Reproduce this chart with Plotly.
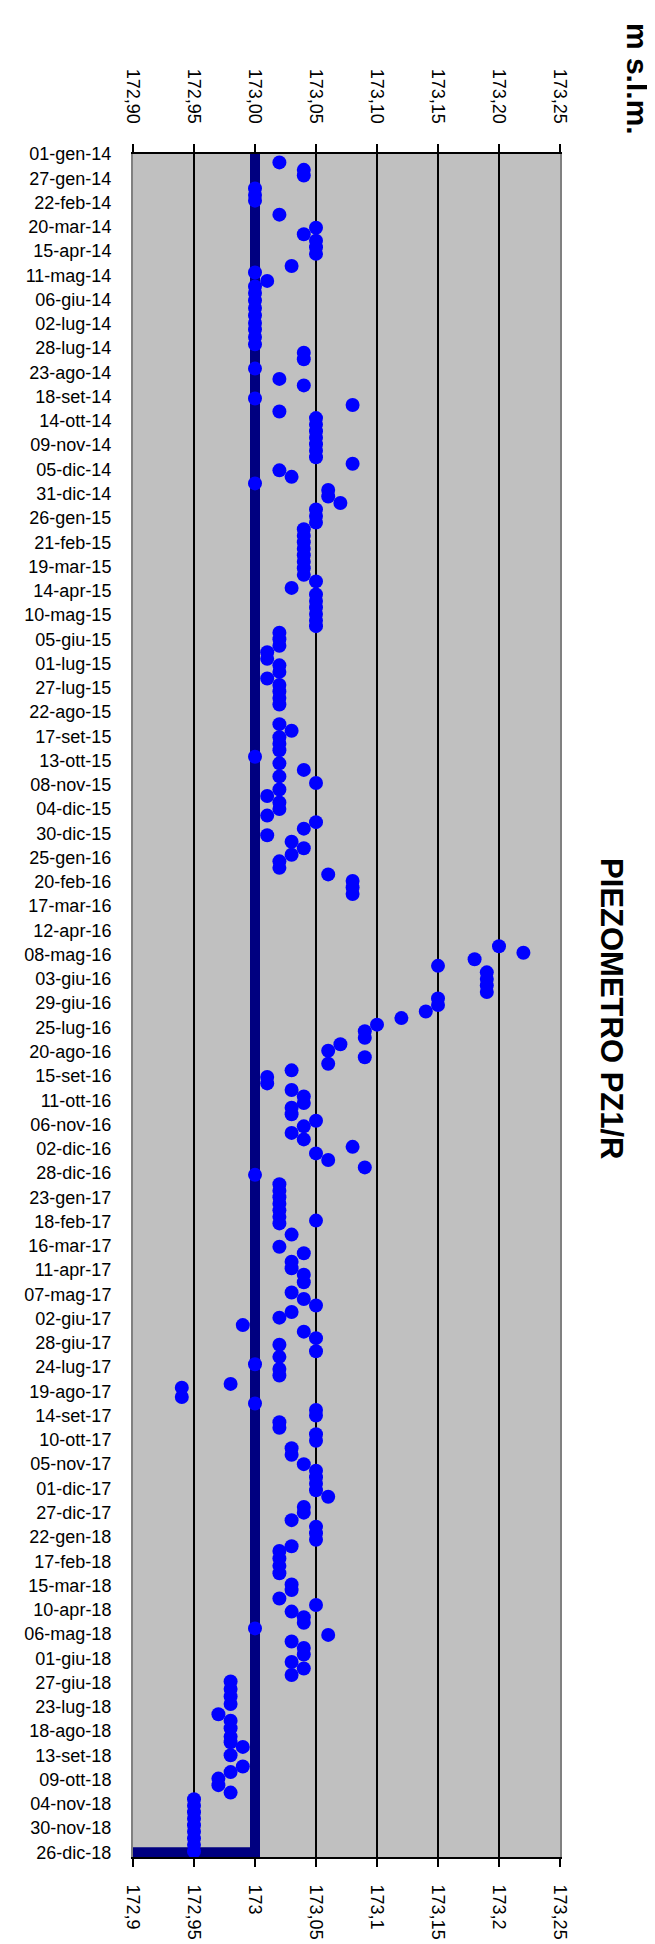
import datetime as dt
import plotly.graph_objects as go

# ---------------- data ----------------
date_labels = [
    "01-gen-14", "27-gen-14", "22-feb-14", "20-mar-14", "15-apr-14", "11-mag-14", "06-giu-14",
    "02-lug-14", "28-lug-14", "23-ago-14", "18-set-14", "14-ott-14", "09-nov-14", "05-dic-14",
    "31-dic-14", "26-gen-15", "21-feb-15", "19-mar-15", "14-apr-15", "10-mag-15", "05-giu-15",
    "01-lug-15", "27-lug-15", "22-ago-15", "17-set-15", "13-ott-15", "08-nov-15", "04-dic-15",
    "30-dic-15", "25-gen-16", "20-feb-16", "17-mar-16", "12-apr-16", "08-mag-16", "03-giu-16",
    "29-giu-16", "25-lug-16", "20-ago-16", "15-set-16", "11-ott-16", "06-nov-16", "02-dic-16",
    "28-dic-16", "23-gen-17", "18-feb-17", "16-mar-17", "11-apr-17", "07-mag-17", "02-giu-17",
    "28-giu-17", "24-lug-17", "19-ago-17", "14-set-17", "10-ott-17", "05-nov-17", "01-dic-17",
    "27-dic-17", "22-gen-18", "17-feb-18", "15-mar-18", "10-apr-18", "06-mag-18", "01-giu-18",
    "27-giu-18", "23-lug-18", "18-ago-18", "13-set-18", "09-ott-18", "04-nov-18", "30-nov-18",
    "26-dic-18",
]
month_map = {"gen": 1, "feb": 2, "mar": 3, "apr": 4, "mag": 5, "giu": 6,
             "lug": 7, "ago": 8, "set": 9, "ott": 10, "nov": 11, "dic": 12}

level_ticks = [172.90, 172.95, 173.00, 173.05, 173.10, 173.15, 173.20, 173.25]
level_labels_top = ["172,90", "172,95", "173,00", "173,05", "173,10", "173,15", "173,20", "173,25"]
level_labels_bottom = ["172,9", "172,95", "173", "173,05", "173,1", "173,15", "173,2", "173,25"]

series_start = "2014-01-01"
# days after series_start of each reading
reading_days = [
    9, 17, 23, 37, 44, 50, 65, 79, 86, 93, 100, 107, 120, 127, 136, 142, 149, 157, 165, 173,
    181, 188, 196, 204, 213, 220, 230, 241, 248, 262, 269, 276, 283, 290, 297, 304, 311, 318,
    325, 332, 339, 346, 353, 360, 367, 374, 381, 388, 395, 402, 409, 416, 423, 430, 437, 444,
    451, 458, 465, 472, 479, 486, 493, 500, 506, 513, 520, 527, 534, 541, 548, 555, 562, 569,
    576, 583, 590, 611, 618, 625, 632, 639, 646, 653, 660, 667, 674, 681, 688, 695, 702, 709,
    716, 723, 730, 737, 744, 751, 758, 765, 772, 779, 786, 793, 849, 856, 863, 870, 877, 884,
    891, 898, 905, 912, 919, 926, 933, 940, 947, 954, 961, 968, 975, 982, 989, 996, 1003, 1010,
    1017, 1022, 1029, 1036, 1042, 1049, 1056, 1064, 1071, 1078, 1086, 1094, 1104, 1111, 1118,
    1125, 1132, 1139, 1143, 1146, 1158, 1171, 1178, 1187, 1194, 1201, 1209, 1220, 1227, 1234,
    1241, 1247, 1255, 1262, 1269, 1276, 1283, 1289, 1297, 1302, 1309, 1318, 1322, 1332, 1339,
    1346, 1352, 1359, 1365, 1372, 1379, 1387, 1394, 1404, 1411, 1418, 1425, 1432, 1439, 1450,
    1456, 1464, 1471, 1478, 1485, 1492, 1497, 1505, 1513, 1521, 1533, 1539, 1548, 1555, 1562,
    1568, 1574, 1580, 1587, 1594, 1601, 1608, 1616, 1623, 1630, 1637, 1645, 1653, 1661, 1672,
    1679, 1687, 1696, 1702, 1707, 1716, 1728, 1734, 1741, 1748, 1756, 1763, 1770, 1777, 1784,
    1791, 1798, 1805, 1812, 1819,
]
reading_levels = [
    173.02, 173.04, 173.04, 173.00, 173.00, 173.00, 173.02, 173.05, 173.04, 173.05, 173.05, 173.05,
    173.03, 173.00, 173.01, 173.00, 173.00, 173.00, 173.00, 173.00, 173.00, 173.00, 173.00, 173.00,
    173.04, 173.04, 173.00, 173.02, 173.04, 173.00, 173.08, 173.02, 173.05, 173.05, 173.05, 173.05,
    173.05, 173.05, 173.05, 173.08, 173.02, 173.03, 173.00, 173.06, 173.06, 173.07, 173.05, 173.05,
    173.05, 173.04, 173.04, 173.04, 173.04, 173.04, 173.04, 173.04, 173.04, 173.05, 173.03, 173.05,
    173.05, 173.05, 173.05, 173.05, 173.05, 173.02, 173.02, 173.02, 173.01, 173.01, 173.02, 173.02,
    173.01, 173.02, 173.02, 173.02, 173.02, 173.02, 173.03, 173.02, 173.02, 173.02, 173.00, 173.02,
    173.04, 173.02, 173.05, 173.02, 173.01, 173.02, 173.02, 173.01, 173.05, 173.04, 173.01, 173.03,
    173.04, 173.03, 173.02, 173.02, 173.06, 173.08, 173.08, 173.08, 173.20, 173.22, 173.18, 173.15,
    173.19, 173.19, 173.19, 173.19, 173.15, 173.15, 173.14, 173.12, 173.10, 173.09, 173.09, 173.07,
    173.06, 173.09, 173.06, 173.03, 173.01, 173.01, 173.03, 173.04, 173.04, 173.03, 173.03, 173.05,
    173.04, 173.03, 173.04, 173.08, 173.05, 173.06, 173.09, 173.00, 173.02, 173.02, 173.02, 173.02,
    173.02, 173.02, 173.05, 173.02, 173.03, 173.02, 173.04, 173.03, 173.03, 173.04, 173.04, 173.03,
    173.04, 173.05, 173.03, 173.02, 172.99, 173.04, 173.05, 173.02, 173.05, 173.02, 173.00, 173.02,
    173.02, 172.98, 172.94, 172.94, 173.00, 173.05, 173.05, 173.02, 173.02, 173.05, 173.05, 173.03,
    173.03, 173.04, 173.05, 173.05, 173.05, 173.05, 173.06, 173.04, 173.04, 173.03, 173.05, 173.05,
    173.05, 173.03, 173.02, 173.02, 173.02, 173.02, 173.03, 173.03, 173.02, 173.05, 173.03, 173.04,
    173.04, 173.00, 173.06, 173.03, 173.04, 173.04, 173.03, 173.04, 173.03, 172.98, 172.98, 172.98,
    172.98, 172.97, 172.98, 172.98, 172.98, 172.98, 172.99, 172.98, 172.99, 172.98, 172.97, 172.97,
    172.98, 172.95, 172.95, 172.95, 172.95, 172.95, 172.95, 172.95, 172.95, 172.95,
]

threshold_dates = ["2014-01-01", "2018-12-26", "2018-12-26"]
threshold_levels = [173.00, 173.00, 172.80]

title_text = "PIEZOMETRO PZ1/R"
unit_text = "m s.l.m."

# ---------------- build ----------------
def parse_label(s):
    d, m, y = s.split("-")
    return dt.datetime(2000 + int(y), month_map[m], int(d))

tick_dates = [parse_label(s) for s in date_labels]
start = dt.datetime.fromisoformat(series_start)
reading_dates = [start + dt.timedelta(days=d) for d in reading_days]

FONT = "Liberation Sans, Arial, sans-serif"

fig = go.Figure()
fig.add_trace(go.Scatter(
    x=threshold_levels, y=threshold_dates, mode="lines",
    line=dict(color="#000080", width=10), xaxis="x", yaxis="y",
    hoverinfo="skip", showlegend=False,
))
fig.add_trace(go.Scatter(
    x=reading_levels, y=reading_dates, mode="markers",
    marker=dict(color="#0000FF", size=14, line=dict(width=0)),
    xaxis="x2", yaxis="y", cliponaxis=False, showlegend=False,
))

axis_font = dict(family=FONT, size=18, color="black")

fig.update_layout(
    width=655, height=1944,
    margin=dict(l=125, r=103, t=146, b=86),
    paper_bgcolor="white", plot_bgcolor="#C0C0C0",
    showlegend=False,
    xaxis=dict(
        range=[172.9, 173.25], tickmode="array", tickvals=level_ticks,
        ticktext=level_labels_bottom, tickangle=90, side="bottom",
        showgrid=True, gridcolor="black", gridwidth=2, zeroline=False,
        showline=True, linecolor="black", linewidth=2,
        ticks="outside", ticklen=8, tickwidth=2, tickcolor="black",
        tickfont=axis_font, ticklabelstandoff=14,
    ),
    xaxis2=dict(
        overlaying="x", matches="x", side="top", range=[172.9, 173.25],
        tickmode="array", tickvals=level_ticks, ticktext=level_labels_top,
        tickangle=90, showgrid=False, zeroline=False,
        showline=True, linecolor="black", linewidth=2,
        ticks="outside", ticklen=8, tickwidth=2, tickcolor="black",
        tickfont=axis_font, ticklabelstandoff=14,
    ),
    yaxis=dict(
        type="date", range=["2018-12-31", "2014-01-01"],
        tickmode="array", tickvals=tick_dates, ticktext=date_labels,
        showgrid=False, zeroline=False, showline=True, mirror=True,
        linecolor="#808080", linewidth=2, ticks="",
        tickfont=axis_font, ticklabelstandoff=16,
    ),
    annotations=[
        dict(text=title_text, xref="paper", yref="paper", x=1.119, y=0.498,
             xanchor="center", yanchor="middle", textangle=90, showarrow=False,
             font=dict(family=FONT, size=31, color="black", weight="bold")),
        dict(text=unit_text, xref="paper", yref="paper", x=1.183, y=1.044,
             xanchor="center", yanchor="middle", textangle=90, showarrow=False,
             font=dict(family=FONT, size=30, color="black", weight="bold")),
    ],
)

fig.write_html("out.html")
